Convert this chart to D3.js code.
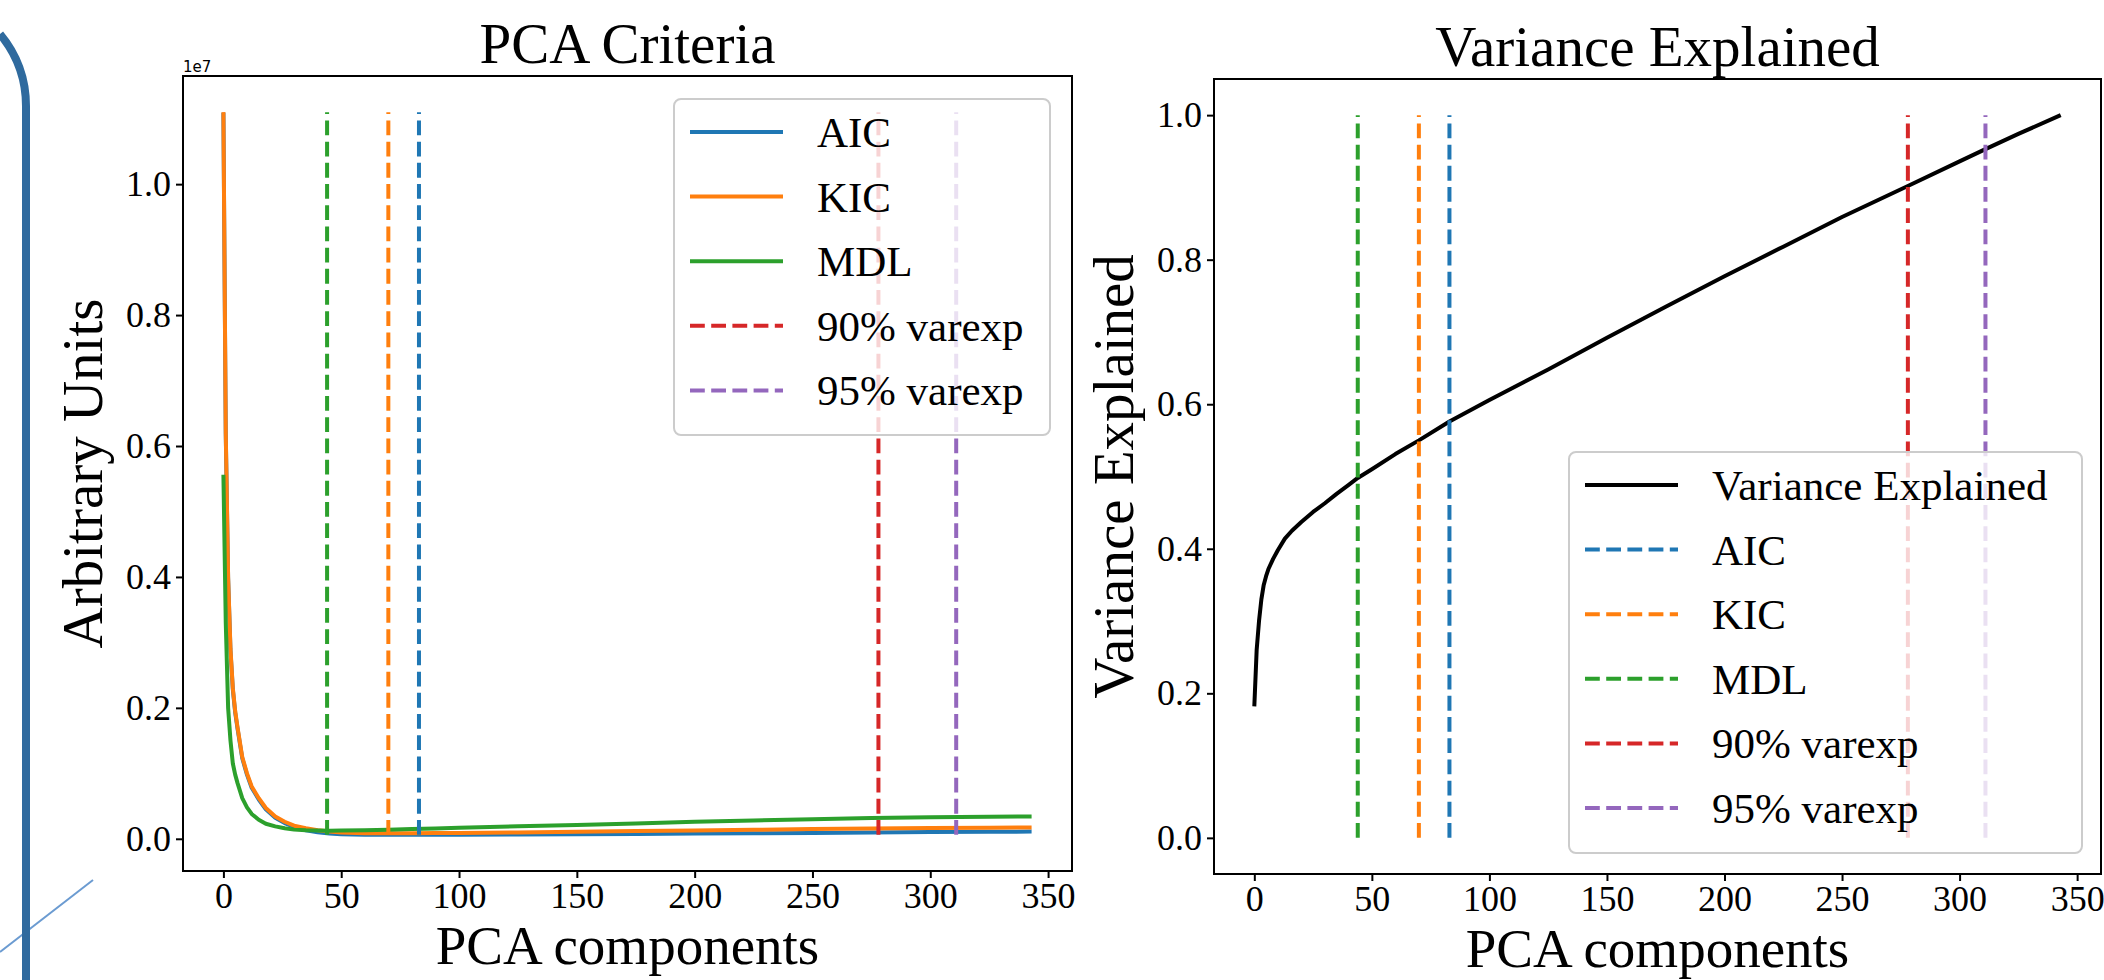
<!DOCTYPE html>
<html>
<head>
<meta charset="utf-8">
<script src="https://cdn.jsdelivr.net/npm/d3@7"></script>
<style>
    body { margin: 0; background: #ffffff; }
    svg text { fill: #000000; }
</style>
</head>
<body>
<svg id="chart" width="2104" height="980"></svg>
<script>
// ---- data ----
// left panel: criteria curves, values in units of 1e7
const criteriaX = [0, 1, 2, 3, 4, 5, 6, 8, 10, 12, 15, 18, 22, 26, 30, 35, 40, 45, 50, 60, 70, 80, 90, 100, 125, 150, 175, 200, 225, 250, 275, 300, 325, 343]
const aicValues = [1.109, 0.618, 0.398, 0.288, 0.228, 0.193, 0.168, 0.123, 0.098, 0.078, 0.060, 0.045, 0.032, 0.024, 0.018, 0.013, 0.010, 0.008, 0.007, 0.0062, 0.006, 0.006, 0.006, 0.0062, 0.0066, 0.007, 0.0075, 0.008, 0.0085, 0.009, 0.0097, 0.0103, 0.0108, 0.011]
const kicValues = [1.11, 0.62, 0.40, 0.29, 0.23, 0.195, 0.17, 0.125, 0.10, 0.08, 0.062, 0.047, 0.034, 0.026, 0.020, 0.016, 0.013, 0.011, 0.0095, 0.0085, 0.0083, 0.0085, 0.0088, 0.009, 0.0098, 0.0108, 0.0118, 0.0128, 0.0138, 0.0148, 0.0157, 0.0164, 0.017, 0.0173]
const mdlValues = [0.556, 0.33, 0.20, 0.15, 0.115, 0.098, 0.085, 0.062, 0.048, 0.038, 0.029, 0.023, 0.019, 0.016, 0.014, 0.013, 0.0125, 0.0122, 0.0125, 0.013, 0.014, 0.015, 0.0158, 0.0168, 0.019, 0.021, 0.0235, 0.026, 0.028, 0.030, 0.0318, 0.033, 0.0338, 0.0342]

// right panel: cumulative variance explained
const varexpX = [0, 1, 2, 3, 4, 5, 6, 8, 10, 13, 16, 20, 25, 30, 35, 40, 44, 50, 60, 70, 83, 100, 125, 150, 175, 200, 225, 250, 278, 300, 311, 325, 343]
const varexpValues = [0.182, 0.26, 0.30, 0.33, 0.35, 0.362, 0.372, 0.386, 0.398, 0.414, 0.425, 0.437, 0.451, 0.463, 0.476, 0.488, 0.498, 0.51, 0.531, 0.55, 0.576, 0.606, 0.648, 0.692, 0.735, 0.777, 0.818, 0.859, 0.902, 0.936, 0.953, 0.974, 1.0]

// selected number of components
const markerNames = ["AIC", "KIC", "MDL", "90% varexp", "95% varexp"]
const markerComponents = [83, 70, 44, 278, 311]

const xTicks = [0, 50, 100, 150, 200, 250, 300, 350]
const yTicks = [0, 0.2, 0.4, 0.6, 0.8, 1.0]

// ---- styles ----
const colors = {
    "AIC": "#1f77b4",
    "KIC": "#ff7f0e",
    "MDL": "#2ca02c",
    "90% varexp": "#d62728",
    "95% varexp": "#9467bd",
    "Variance Explained": "#000000"
}
const serif = '"Liberation Serif", "DejaVu Serif", serif'
const dash = "14.8,6.4"

const svg = d3.select("#chart")

/* slide decoration on the left edge */
svg.append("line")
    .attr("x1", 0).attr("y1", 952)
    .attr("x2", 93).attr("y2", 880)
    .attr("stroke", "#6b9bd1")
    .attr("stroke-width", 2)
svg.append("path")
    .attr("d", "M0,34 A112.7,112.7 0 0 1 26,106 L26,980")
    .attr("fill", "none")
    .attr("stroke", "#2f6a9e")
    .attr("stroke-width", 8)

function padDomain(lo, hi) {
    const m = (hi - lo) * 0.05
    return [lo - m, hi + m]
}

function drawPanel(p) {
    const g = svg.append("g")

    const x = d3.scaleLinear()
        .domain(padDomain(0, 343))
        .range([p.left, p.right])
    const y = d3.scaleLinear()
        .domain(padDomain(p.yMin, p.yMax))
        .range([p.bottom, p.top])

    g.append("clipPath").attr("id", p.id + "-clip")
        .append("rect")
        .attr("x", p.left).attr("y", p.top)
        .attr("width", p.right - p.left).attr("height", p.bottom - p.top)

    const plot = g.append("g").attr("clip-path", `url(#${p.id}-clip)`)

    const line = d3.line()
        .x((d) => x(d[0]))
        .y((d) => y(d[1]))

    /* curves */
    p.series.forEach((s) => {
        plot.append("path")
            .datum(s.xs.map((v, i) => [v, s.ys[i]]))
            .attr("d", line)
            .attr("fill", "none")
            .attr("stroke", colors[s.name])
            .attr("stroke-width", 4)
            .attr("stroke-linejoin", "round")
    })

    /* vertical markers, drawn bottom to top */
    plot.selectAll(".marker")
        .data(markerComponents)
        .enter()
        .append("line")
        .attr("class", "marker")
        .attr("x1", (d) => x(d))
        .attr("x2", (d) => x(d))
        .attr("y1", y(p.yMin))
        .attr("y2", y(p.yMax))
        .attr("stroke", (d, i) => colors[markerNames[i]])
        .attr("stroke-width", 4)
        .attr("stroke-dasharray", dash)

    /* axes */
    const xAxis = d3.axisBottom(x)
        .tickValues(xTicks)
        .tickSize(7)
        .tickPadding(4)
        .tickFormat(d3.format("d"))
    const xg = g.append("g")
        .attr("transform", `translate(0, ${p.bottom})`)
        .call(xAxis)

    const yAxis = d3.axisLeft(y)
        .tickValues(yTicks)
        .tickSize(7)
        .tickPadding(5)
        .tickFormat(d3.format(".1f"))
    const yg = g.append("g")
        .attr("transform", `translate(${p.left}, 0)`)
        .call(yAxis)

    ;[xg, yg].forEach((ax) => {
        ax.attr("font-family", null).attr("font-size", null)
        ax.select(".domain").remove()
        ax.selectAll("line").attr("stroke", "#000").attr("stroke-width", 2)
        ax.selectAll("text")
            .style("font-family", serif)
            .style("font-size", "36px")
            .attr("fill", "#000")
    })

    /* frame */
    g.append("rect")
        .attr("x", p.left).attr("y", p.top)
        .attr("width", p.right - p.left).attr("height", p.bottom - p.top)
        .attr("fill", "none")
        .attr("stroke", "#000")
        .attr("stroke-width", 2)

    /* titles */
    const cx = (p.left + p.right) / 2
    g.append("text")
        .attr("x", cx).attr("y", p.top - 13)
        .attr("text-anchor", "middle")
        .style("font-family", serif).style("font-size", "57px")
        .text(p.title)
    g.append("text")
        .attr("x", cx).attr("y", p.bottom + 93)
        .attr("text-anchor", "middle")
        .style("font-family", serif).style("font-size", "55px")
        .text("PCA components")
    g.append("text")
        .attr("transform", `translate(${p.left - 81}, ${(p.top + p.bottom) / 2}) rotate(-90)`)
        .attr("text-anchor", "middle")
        .style("font-family", serif).style("font-size", "57px")
        .text(p.yLabel)

    if (p.offsetText) {
        g.append("text")
            .attr("x", p.left).attr("y", p.top - 4)
            .style("font-family", '"DejaVu Sans", sans-serif')
            .style("font-size", "15px")
            .text(p.offsetText)
    }

    /* legend */
    const lg = p.legend
    g.append("rect")
        .attr("x", lg.x).attr("y", lg.y)
        .attr("width", lg.w).attr("height", lg.h)
        .attr("rx", 7)
        .attr("fill", "#ffffff").attr("fill-opacity", 0.8)
        .attr("stroke", "#cccccc").attr("stroke-width", 2)

    lg.items.forEach((item, i) => {
        const rowY = lg.y + 33 + i * 64.6
        g.append("line")
            .attr("x1", lg.x + 16).attr("x2", lg.x + 109)
            .attr("y1", rowY).attr("y2", rowY)
            .attr("stroke", colors[item.name])
            .attr("stroke-width", 4)
            .attr("stroke-dasharray", item.dashed ? dash : null)
        g.append("text")
            .attr("x", lg.x + 143).attr("y", rowY + 15)
            .style("font-family", serif).style("font-size", "43px")
            .text(item.name)
    })
}

const allCriteria = aicValues.concat(kicValues, mdlValues)

drawPanel({
    id: "criteria",
    left: 183, right: 1072, top: 76, bottom: 871,
    yMin: d3.min(allCriteria), yMax: d3.max(allCriteria),
    title: "PCA Criteria",
    yLabel: "Arbitrary Units",
    offsetText: "1e7",
    series: [
        { name: "AIC", xs: criteriaX, ys: aicValues },
        { name: "KIC", xs: criteriaX, ys: kicValues },
        { name: "MDL", xs: criteriaX, ys: mdlValues }
    ],
    legend: {
        x: 674, y: 99, w: 376, h: 336,
        items: [
            { name: "AIC", dashed: false },
            { name: "KIC", dashed: false },
            { name: "MDL", dashed: false },
            { name: "90% varexp", dashed: true },
            { name: "95% varexp", dashed: true }
        ]
    }
})

drawPanel({
    id: "varexp",
    left: 1214, right: 2101, top: 79, bottom: 874,
    yMin: 0, yMax: 1,
    title: "Variance Explained",
    yLabel: "Variance Explained",
    series: [
        { name: "Variance Explained", xs: varexpX, ys: varexpValues }
    ],
    legend: {
        x: 1569, y: 452, w: 513, h: 401,
        items: [
            { name: "Variance Explained", dashed: false },
            { name: "AIC", dashed: true },
            { name: "KIC", dashed: true },
            { name: "MDL", dashed: true },
            { name: "90% varexp", dashed: true },
            { name: "95% varexp", dashed: true }
        ]
    }
})
</script>
</body>
</html>
